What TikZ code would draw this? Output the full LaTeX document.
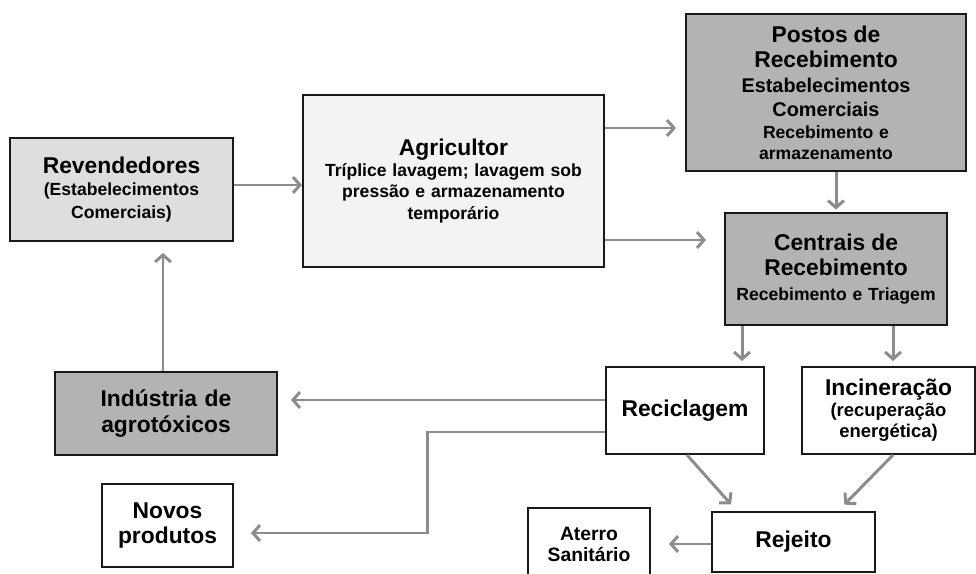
\documentclass[tikz,border=0pt]{standalone}
\usepackage{fontspec}
\setmainfont{Liberation Sans}
\usetikzlibrary{arrows.meta}
\definecolor{darkfill}{HTML}{B3B3B3}
\definecolor{lightfill}{HTML}{DEDEDE}
\definecolor{palefill}{HTML}{F3F3F3}
\definecolor{arrowgray}{HTML}{8C8C8C}
\newcommand{\hdsize}{\fontsize{13}{14.5}\selectfont}
\newcommand{\midsize}{\fontsize{11.3}{14}\selectfont}
\newcommand{\subsize}{\fontsize{10}{12}\selectfont}

\begin{document}
\begin{tikzpicture}[
	box/.style={draw=black!90, line width=1.1pt, align=center, inner sep=0pt, font=\bfseries},
	arr/.style={draw=arrowgray, line width=1.7pt, -{Straight Barb[length=4pt,width=9pt]}},
]
	\useasboundingbox (0,0) rectangle (19.52,11.46);

	% boxes
	\node[box, fill=lightfill, text width=4.46cm, minimum height=2.06cm] (revend) at (2.43,7.67)
		{{\hdsize Revendedores\par}{\fontsize{10}{13}\selectfont (Estabelecimentos\\Comerciais)\par}};
	\node[box, fill=palefill, text width=6.02cm, minimum height=3.44cm] (agric) at (9.07,7.84)
		{{\hdsize Agricultor\par}{\subsize Tríplice lavagem; lavagem sob\\pressão e armazenamento\\temporário\par}};
	\node[box, fill=darkfill, text width=5.6cm, minimum height=3.14cm] (postos) at (16.52,9.61)
		{{\hdsize Postos de\\Recebimento\par}{\midsize Estabelecimentos\\Comerciais\par}{\subsize Recebimento e\\armazenamento\par}};
	\node[box, fill=darkfill, text width=4.44cm, minimum height=2.24cm] (centrais) at (16.72,6.08)
		{{\hdsize Centrais de\\Recebimento\par}{\fontsize{10}{14}\selectfont Recebimento e Triagem\par}};
	\node[box, fill=white, text width=3.16cm, minimum height=1.74cm, font=\bfseries\hdsize] (recicl) at (13.7,3.25)
		{Reciclagem};
	\node[box, fill=white, text width=3.46cm, minimum height=1.74cm] (incin) at (17.77,3.25)
		{{\hdsize Incineração\par}{\fontsize{10.5}{12}\selectfont (recuperação\\energética)\par}};
	\node[box, fill=darkfill, text width=4.44cm, minimum height=1.66cm, font=\bfseries\hdsize] (industria) at (3.32,3.19)
		{Indústria de\\agrotóxicos};
	\node[box, fill=white, text width=2.62cm, minimum height=1.66cm, font=\bfseries\hdsize] (novos) at (3.35,0.95)
		{Novos\\produtos};
	\node[box, fill=white, text width=2.44cm, minimum height=1.44cm, font=\bfseries\fontsize{11}{12}\selectfont] (aterro) at (11.78,0.58)
		{Aterro\\Sanitário};
	\node[box, fill=white, text width=3.26cm, minimum height=1.2cm, font=\bfseries\hdsize] (rejeito) at (15.87,0.62)
		{Rejeito};

	% arrows
	\draw[arr] ([yshift=0.09cm]revend.east) -- ([yshift=0.09cm]revend.east -| agric.west);
	\draw[arr, shorten >=0.18cm] ([yshift=1.06cm]agric.east) -- ([yshift=1.06cm]agric.east -| postos.west);
	\draw[arr, shorten >=0.36cm] ([yshift=-1.18cm]agric.east) -- ([yshift=-1.18cm]agric.east -| centrais.west);
	\draw[arr, shorten >=0.05cm] (postos.south -| centrais.north) -- (centrais.north);
	\draw[arr, shorten >=0.1cm] ([xshift=-1.88cm]centrais.south) -- ([xshift=-1.88cm]centrais.south |- recicl.north);
	\draw[arr, shorten >=0.1cm] ([xshift=1.14cm]centrais.south) -- ([xshift=1.14cm]centrais.south |- incin.north);
	\draw[arr, shorten >=0.26cm] ([yshift=0.21cm]recicl.west) -- ([yshift=0.21cm]recicl.west -| industria.east);
	\coordinate (knee) at (8.54,0.8);
	\draw[arr, shorten >=0.34cm] ([yshift=-0.43cm]recicl.west) -| (knee) -- (knee -| novos.east);
	\draw[arr, shorten >=0.22cm] ([xshift=-0.06cm]industria.north) -- ([xshift=-0.06cm]industria.north |- revend.south);
	\draw[arr, shorten >=0.18cm] ([xshift=0.04cm]recicl.south) -- ([xshift=-1.13cm]rejeito.north);
	\draw[arr, shorten >=0.18cm] ([xshift=0.09cm]incin.south) -- ([xshift=0.89cm]rejeito.north);
	\draw[arr, shorten >=0.36cm] ([yshift=-0.04cm]rejeito.west) -- ([yshift=-0.04cm]rejeito.west -| aterro.east);
\end{tikzpicture}
\end{document}
